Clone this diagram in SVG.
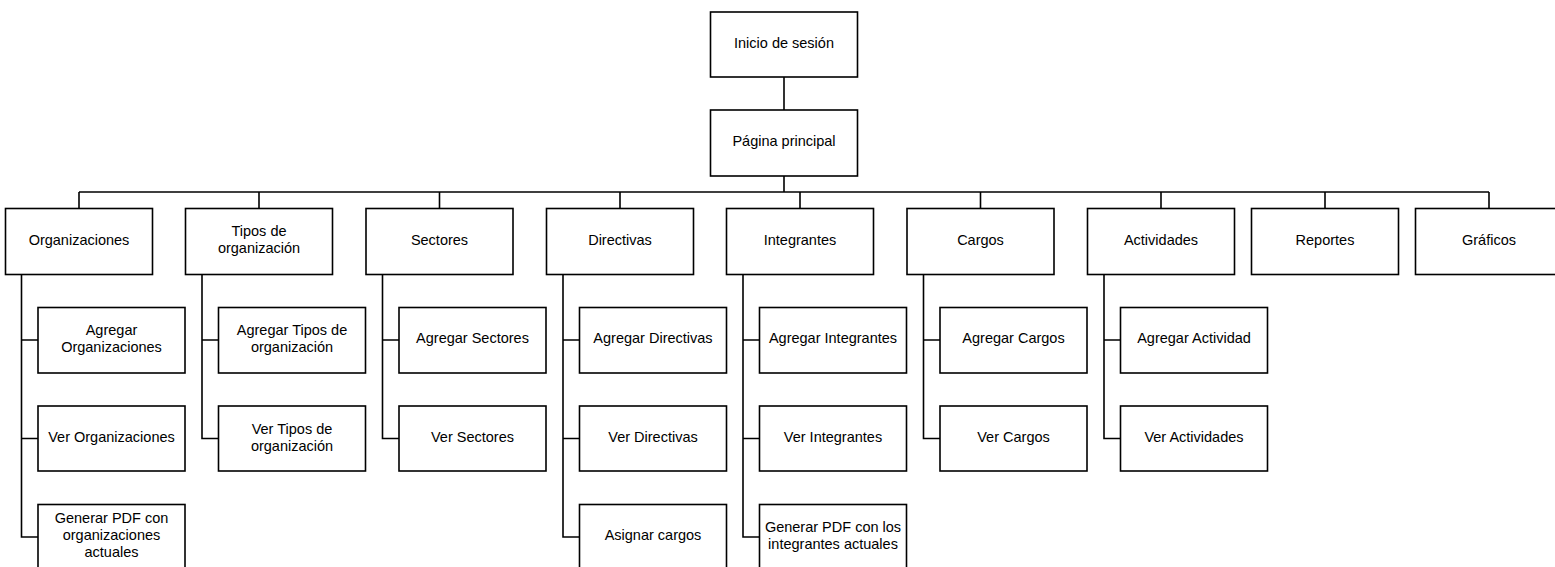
<svg xmlns="http://www.w3.org/2000/svg" width="1555" height="567" viewBox="0 0 1555 567">
<style>
.b{fill:#fff;stroke:#000;stroke-width:1.6}
.c{fill:none;stroke:#000;stroke-width:1.6}
text{font-family:"Liberation Sans",Arial,sans-serif;font-size:14.5px;fill:#000;text-anchor:middle;dominant-baseline:central}
</style>
<rect width="1555" height="567" fill="#fff"/>
<g id="connectors">
<path class="c" d="M784 77V110M784 176V192M79 192H1489M79 192V208.5M259 192V208.5M439.5 192V208.5M620 192V208.5M800 192V208.5M980.5 192V208.5M1161 192V208.5M1325 192V208.5M1489 192V208.5"/>
<path class="c" d="M21.5 274.5V537H38M21.5 340H38M21.5 438.5H38"/>
<path class="c" d="M202 274.5V438.5H218.5M202 340H218.5"/>
<path class="c" d="M382.5 274.5V438.5H399M382.5 340H399"/>
<path class="c" d="M563 274.5V537H579.5M563 340H579.5M563 438.5H579.5"/>
<path class="c" d="M743 274.5V537H759.5M743 340H759.5M743 438.5H759.5"/>
<path class="c" d="M923.5 274.5V438.5H940M923.5 340H940"/>
<path class="c" d="M1104 274.5V438.5H1120.5M1104 340H1120.5"/>
</g>
<g id="inicio"><rect class="b" x="710.5" y="12" width="147" height="65"/><text x="784" y="43">Inicio de sesión</text></g>
<g id="pagina"><rect class="b" x="710.5" y="110" width="147" height="66"/><text x="784" y="141">Página principal</text></g>

<g id="organizaciones"><rect class="b" x="5.5" y="208.5" width="147" height="66"/><text x="79" y="240">Organizaciones</text></g>
<g id="tipos"><rect class="b" x="185.5" y="208.5" width="147" height="66"/><text x="259" y="231">Tipos de</text><text x="259" y="248">organización</text></g>
<g id="sectores"><rect class="b" x="366" y="208.5" width="147" height="66"/><text x="439.5" y="240">Sectores</text></g>
<g id="directivas"><rect class="b" x="546.5" y="208.5" width="147" height="66"/><text x="620" y="240">Directivas</text></g>
<g id="integrantes"><rect class="b" x="726.5" y="208.5" width="147" height="66"/><text x="800" y="240">Integrantes</text></g>
<g id="cargos"><rect class="b" x="907" y="208.5" width="147" height="66"/><text x="980.5" y="240">Cargos</text></g>
<g id="actividades"><rect class="b" x="1087.5" y="208.5" width="147" height="66"/><text x="1161" y="240">Actividades</text></g>
<g id="reportes"><rect class="b" x="1251.5" y="208.5" width="147" height="66"/><text x="1325" y="240">Reportes</text></g>
<g id="graficos"><rect class="b" x="1415.5" y="208.5" width="147" height="66"/><text x="1489" y="240">Gráficos</text></g>

<g id="agregar-org"><rect class="b" x="38" y="307.5" width="147" height="65.5"/><text x="111.5" y="329.5">Agregar</text><text x="111.5" y="346.5">Organizaciones</text></g>
<g id="ver-org"><rect class="b" x="38" y="406" width="147" height="65"/><text x="111.5" y="437">Ver Organizaciones</text></g>
<g id="pdf-org"><rect class="b" x="38" y="504.5" width="147" height="66"/><text x="111.5" y="517.5">Generar PDF con</text><text x="111.5" y="534.5">organizaciones</text><text x="111.5" y="551.5">actuales</text></g>

<g id="agregar-tipos"><rect class="b" x="218.5" y="307.5" width="147" height="65.5"/><text x="292" y="329.5">Agregar Tipos de</text><text x="292" y="346.5">organización</text></g>
<g id="ver-tipos"><rect class="b" x="218.5" y="406" width="147" height="65"/><text x="292" y="428.5">Ver Tipos de</text><text x="292" y="445.5">organización</text></g>

<g id="agregar-sectores"><rect class="b" x="399" y="307.5" width="147" height="65.5"/><text x="472.5" y="338">Agregar Sectores</text></g>
<g id="ver-sectores"><rect class="b" x="399" y="406" width="147" height="65"/><text x="472.5" y="437">Ver Sectores</text></g>

<g id="agregar-directivas"><rect class="b" x="579.5" y="307.5" width="147" height="65.5"/><text x="653" y="338">Agregar Directivas</text></g>
<g id="ver-directivas"><rect class="b" x="579.5" y="406" width="147" height="65"/><text x="653" y="437">Ver Directivas</text></g>
<g id="asignar-cargos"><rect class="b" x="579.5" y="504.5" width="147" height="66"/><text x="653" y="535">Asignar cargos</text></g>

<g id="agregar-integrantes"><rect class="b" x="759.5" y="307.5" width="147" height="65.5"/><text x="833" y="338">Agregar Integrantes</text></g>
<g id="ver-integrantes"><rect class="b" x="759.5" y="406" width="147" height="65"/><text x="833" y="437">Ver Integrantes</text></g>
<g id="pdf-integrantes"><rect class="b" x="759.5" y="504.5" width="147" height="66"/><text x="833" y="526.5">Generar PDF con los</text><text x="833" y="543.5">integrantes actuales</text></g>

<g id="agregar-cargos"><rect class="b" x="940" y="307.5" width="147" height="65.5"/><text x="1013.5" y="338">Agregar Cargos</text></g>
<g id="ver-cargos"><rect class="b" x="940" y="406" width="147" height="65"/><text x="1013.5" y="437">Ver Cargos</text></g>

<g id="agregar-actividad"><rect class="b" x="1120.5" y="307.5" width="147" height="65.5"/><text x="1194" y="338">Agregar Actividad</text></g>
<g id="ver-actividades"><rect class="b" x="1120.5" y="406" width="147" height="65"/><text x="1194" y="437">Ver Actividades</text></g>
</svg>
